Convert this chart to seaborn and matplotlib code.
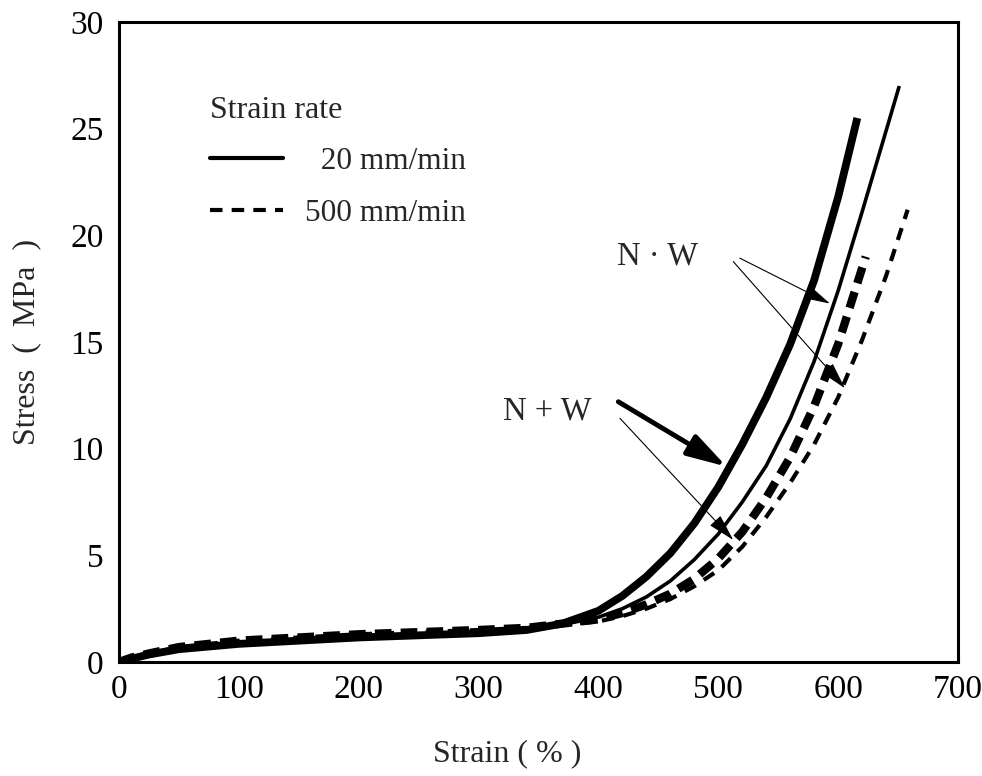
import numpy as np
import pandas as pd
import matplotlib
matplotlib.use("Agg")
import matplotlib.pyplot as plt
from matplotlib.lines import Line2D
import seaborn as sns

# ---------------- data ----------------
strain_nw_plus_20 = [0, 10, 25, 50, 100, 150, 200, 250, 300, 340, 370, 400, 420, 440, 460,
                     480, 500, 520, 540, 560, 580, 600, 616]
stress_nw_plus_20 = [0, 0.15, 0.35, 0.6, 0.85, 1.0, 1.15, 1.25, 1.35, 1.5, 1.8, 2.4, 3.1, 4.0, 5.1,
                     6.5, 8.2, 10.2, 12.4, 14.9, 17.9, 21.8, 25.5]

strain_nw_dot_20 = [0, 10, 25, 50, 100, 150, 200, 250, 300, 340, 370, 400, 420, 440, 460,
                    480, 500, 520, 540, 560, 580, 600, 620, 640, 651]
stress_nw_dot_20 = [0, 0.15, 0.35, 0.6, 0.85, 1.0, 1.15, 1.25, 1.35, 1.5, 1.75, 2.1, 2.5, 3.05, 3.8,
                    4.8, 6.0, 7.5, 9.2, 11.4, 14.1, 17.4, 21.1, 24.9, 27.0]

strain_nw_plus_500 = [0, 10, 25, 50, 100, 150, 200, 250, 300, 340, 370, 400, 420, 440, 460,
                      480, 500, 520, 540, 560, 580, 600, 623]
stress_nw_plus_500 = [0, 0.2, 0.4, 0.7, 1.0, 1.15, 1.3, 1.4, 1.5, 1.6, 1.8, 2.0, 2.3, 2.7, 3.2,
                      3.9, 4.85, 6.1, 7.7, 9.6, 12.0, 14.9, 19.0]

strain_nw_dot_500 = [0, 10, 25, 50, 100, 150, 200, 250, 300, 340, 370, 400, 420, 440, 460,
                     480, 500, 520, 540, 560, 580, 600, 620, 640, 658]
stress_nw_dot_500 = [0, 0.2, 0.4, 0.7, 1.0, 1.15, 1.3, 1.4, 1.5, 1.6, 1.75, 1.9, 2.15, 2.5, 2.95,
                     3.55, 4.3, 5.4, 6.8, 8.4, 10.2, 12.4, 15.1, 18.1, 21.2]

x_ticks = [0, 100, 200, 300, 400, 500, 600, 700]
y_ticks = [0, 5, 10, 15, 20, 25, 30]
legend_labels = ["  20 mm/min", "500 mm/min"]
legend_title = "Strain rate"
label_nw_dot = "N · W"
label_nw_plus = "N + W"

# ---------------- styling ----------------
sns.set_style("white")
plt.rcParams["font.family"] = ["Liberation Serif", "DejaVu Serif"]

fig = plt.figure(figsize=(9.82, 7.76), dpi=100)
ax = fig.add_axes([119 / 982, 1 - 662 / 776, (958 - 119) / 982, (662 - 22) / 776])

curves = [
    (strain_nw_dot_500, stress_nw_dot_500, 3.0, (3.0, 2.3)),
    (strain_nw_plus_500, stress_nw_plus_500, 6.0, (2.0, 1.1)),
    (strain_nw_dot_20, stress_nw_dot_20, 2.6, None),
    (strain_nw_plus_20, stress_nw_plus_20, 5.6, None),
]
for xs, ys, lw, dash in curves:
    df = pd.DataFrame({"Strain": xs, "Stress": ys})
    line_ax = sns.lineplot(data=df, x="Strain", y="Stress", ax=ax, color="black",
                           linewidth=lw, estimator=None, sort=False)
    ln = line_ax.get_lines()[-1]
    ln.set_solid_capstyle("butt")
    ln.set_dash_capstyle("butt")
    ln.set_solid_joinstyle("round")
    if dash is not None:
        ln.set_dashes(dash)

ax.set_xlim(0, 700)
ax.set_ylim(0, 30)
ax.set_xticks(x_ticks)
ax.set_yticks(y_ticks)
ax.set_xticklabels([str(v) for v in x_ticks])
ax.set_yticklabels([str(v) for v in y_ticks])
ax.tick_params(axis="both", direction="in", length=12, width=2, labelsize=24,
               colors="black")
ax.tick_params(axis="y", pad=11)
ax.tick_params(axis="x", pad=9)
ax.tick_params(top=False, right=False)
for sp in ax.spines.values():
    sp.set_visible(True)
    sp.set_linewidth(2.2)
    sp.set_color("black")

ax.set_xlabel("Strain ( % )", fontsize=23)
ax.set_ylabel("Stress  (  MPa  )", fontsize=23)
ax.xaxis.set_label_coords(0.4625, -0.12)
ax.yaxis.set_label_coords(-0.093, 0.50)

# legend
handles = [Line2D([], [], color="black", lw=3),
           Line2D([], [], color="black", lw=3, dashes=(3.0, 2.2))]
leg = ax.legend(handles=handles, labels=legend_labels, title=legend_title,
                frameon=False, loc="upper left", bbox_to_anchor=(0.1085, 0.885),
                borderaxespad=0, borderpad=0, alignment="left",
                handlelength=2.35, handletextpad=0.68, labelspacing=0.72,
                fontsize=22.5, title_fontsize=23)

# annotations
ax.text(415.5, 19.0, label_nw_dot, fontsize=23.5, va="center", ha="left")
ax.text(320.4, 11.75, label_nw_plus, fontsize=23.5, va="center", ha="left")

thin_arrow = dict(arrowstyle="-|>,head_length=17,head_width=4.5", mutation_scale=1,
                  color="black", lw=0.8, shrinkA=0, shrinkB=0)
thick_arrow = dict(arrowstyle="-|>,head_length=24,head_width=7", mutation_scale=1,
                   color="black", lw=3.5, shrinkA=0, shrinkB=0)
ax.annotate("", xy=(593.2, 16.8), xytext=(518, 18.93), arrowprops=thin_arrow)
ax.annotate("", xy=(605.7, 12.83), xytext=(512.5, 18.77), arrowprops=thin_arrow)
ax.annotate("", xy=(506.9, 9.16), xytext=(416.6, 12.2), arrowprops=thick_arrow)
ax.annotate("", xy=(512.5, 5.72), xytext=(418, 11.42), arrowprops=thin_arrow)

fig.savefig("out.png", dpi=100)
